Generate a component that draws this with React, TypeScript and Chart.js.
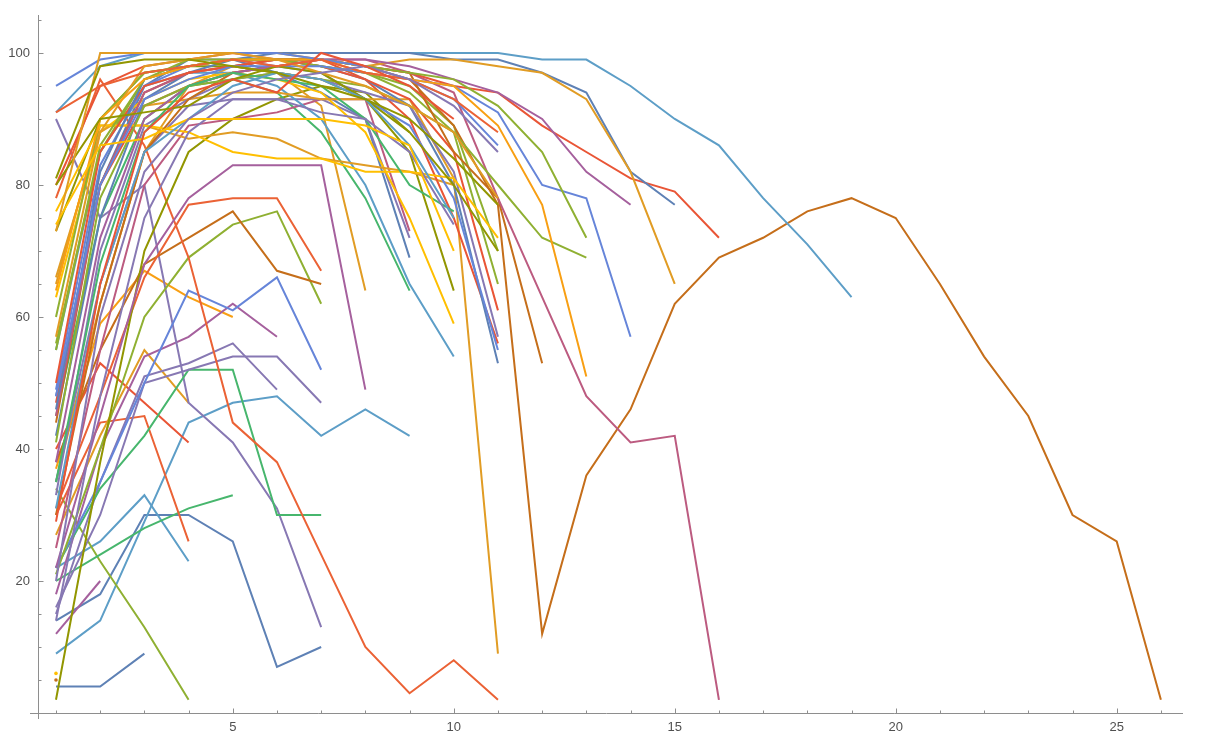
import React, { useEffect, useRef } from "react";
import { Chart, registerables } from "chart.js";

Chart.register(...registerables);

// ---------- data (x = 1, 2, 3, ... for each series) ----------
const s01 = [4, 4, 9];
const s02 = [14, 18, 30, 30, 26, 7, 10];
const s03 = [9, 14, 29, 44, 47, 48, 42, 46, 42];
const s04 = [22, 26, 33, 23];
const s05 = [34, 23, 13, 2];
const s06 = [20, 24, 28, 31, 33];
const s07 = [12, 20];
const s08 = [30, 44, 45, 26];
const s09 = [40, 53, 47, 41];
const s10 = [27, 42, 55, 47];
const s11 = [37, 59, 67, 63, 60];
const s12 = [18, 40, 54, 57, 62, 57];
const s13 = [15, 35, 51, 53, 56, 49];
const s14 = [90, 75, 80, 47, 41, 31, 13];
const s15 = [22, 34, 42, 52, 52, 30, 30];
const s16 = [16, 30, 50, 52, 54, 54, 47];
const s17 = [22, 35, 50, 64, 61, 66, 52];
const s18 = [21, 40, 60, 69, 74, 76, 62];
const s19 = [38, 55, 68, 72, 76, 67, 65];
const s20 = [31, 48, 66, 77, 78, 78, 67];
const s21 = [78, 96, 86, 69, 44, 38, 24, 10, 3, 8, 2];
const s22 = [2, 38, 70, 85, 90, 93, 95, 94, 88];
const s23 = [22, 45, 68, 78, 83, 83, 83, 49];
const s24 = [35, 62, 85, 95, 98, 97, 92, 64];
const s25 = [45, 75, 90, 95, 96, 94, 88, 78, 64];
const s26 = [48, 80, 95, 99, 99, 97, 94, 90, 69];
const s27 = [25, 55, 80, 89, 90, 91, 93, 93, 73];
const s28 = [35, 65, 85, 92, 93, 93, 93, 90, 72];
const s29 = [55, 85, 95, 97, 97, 95, 90, 80, 65, 54];
const s30 = [63, 88, 93, 96, 97, 96, 94, 88, 75, 59];
const s31 = [73, 90, 97, 98, 98, 97, 96, 93, 85, 64];
const s32 = [65, 89, 89, 87, 88, 87, 84, 83, 82, 80];
const s33 = [66, 88, 92, 93, 94, 94, 93, 93, 93, 81, 9];
const s34 = [47, 80, 92, 95, 97, 98, 99, 96, 90, 75, 56];
const s35 = [42, 75, 93, 97, 99, 99, 98, 96, 92, 80, 53];
const s36 = [49, 83, 95, 98, 99, 98, 97, 93, 89, 78, 55];
const s37 = [33, 70, 89, 93, 96, 97, 96, 94, 92, 82, 57];
const s38 = [80, 95, 98, 99, 100, 99, 98, 96, 93, 85, 61];
const s39 = [56, 85, 96, 99, 99, 99, 98, 97, 94, 88, 65];
const s40 = [60, 90, 97, 98, 99, 99, 98, 97, 95, 89, 70];
const s41 = [76, 89, 89, 88, 85, 84, 84, 82, 82, 81, 72];
const s42 = [44, 80, 94, 97, 98, 99, 99, 98, 97, 85, 78, 53];
const s43 = [30, 62, 85, 93, 97, 98, 99, 98, 96, 89, 77, 12, 36, 46, 62, 69, 72, 76, 78, 75, 65, 54, 45, 30, 26, 2];
const s44 = [91, 98, 100, 100, 100, 100, 100, 100, 100, 100, 100, 99, 99, 95, 90, 86, 78, 71, 63];
const s45 = [45, 80, 94, 97, 98, 99, 99, 99, 97, 94, 78, 63, 48, 41, 42, 2];
const s46 = [50, 85, 95, 97, 98, 99, 99, 98, 97, 95, 94, 89, 85, 81, 79, 72];
const s47 = [46, 82, 96, 98, 99, 100, 100, 100, 100, 99, 99, 97, 94, 82, 77];
const s48 = [57, 88, 98, 99, 100, 100, 99, 98, 99, 99, 98, 97, 93, 82, 65];
const s49 = [48, 80, 93, 96, 98, 98, 98, 97, 96, 95, 91, 80, 78, 57];
const s50 = [38, 72, 90, 95, 97, 98, 99, 99, 98, 96, 94, 90, 82, 77];
const s51 = [55, 86, 96, 98, 99, 99, 99, 98, 97, 96, 92, 85, 72];
const s52 = [41, 78, 92, 95, 96, 97, 96, 95, 92, 88, 80, 72, 69];
const s53 = [64, 90, 96, 98, 99, 99, 99, 97, 96, 95, 89, 77, 51];
const s54 = [95, 99, 100, 100, 100, 100, 99, 98, 96, 93, 86];
const s55 = [35, 68, 88, 95, 97, 96, 95, 90, 80, 76];
const s56 = [80, 90, 91, 92, 96, 98, 97, 93, 88, 80, 70];
const s57 = [73, 100, 100, 100, 100, 99, 97, 95, 92, 88, 78];
const s58 = [91, 95, 97, 98, 99, 98, 99, 97, 96, 93, 88];
const s59 = [31, 65, 85, 90, 95, 97, 96, 93, 86, 75];
const s60 = [14, 48, 75, 88, 93, 93, 91, 90, 85, 74];
const s61 = [6];
const s62 = [5];
const s63 = [81, 98, 99, 99, 98, 97, 95, 93, 90, 84, 77];
const s64 = [74, 86, 87, 90, 90, 90, 90, 89, 86, 70];
const s65 = [20, 60, 82, 90, 94, 96, 97, 98, 96, 92, 85];
const s66 = [29, 65, 88, 94, 96, 94, 100, 98, 95, 90];

const seriesList = [
  s01, s02, s03, s04, s05, s06, s07, s08, s09, s10, s11, s12, s13, s14, s15, s16, s17,
  s18, s19, s20, s21, s22, s23, s24, s25, s26, s27, s28, s29, s30, s31, s32, s33, s34,
  s35, s36, s37, s38, s39, s40, s41, s42, s43, s44, s45, s46, s47, s48, s49, s50, s51,
  s52, s53, s54, s55, s56, s57, s58, s59, s60, s61, s62, s63, s64, s65, s66,
];

const xTickLabels = [5, 10, 15, 20, 25];
const yTickLabels = [20, 40, 60, 80, 100];

// ---------- styles ----------
const C1 = "#5E81B5", C2 = "#E19C24", C3 = "#8FB032", C4 = "#EB6235", C5 = "#8778B3";
const C6 = "#C56E1A", C7 = "#5D9EC7", C8 = "#FFBF00", C9 = "#A5609D", C10 = "#929600";
const C11 = "#E95536", C12 = "#6685D9", C13 = "#F89F13", C14 = "#BC5B80", C15 = "#47B66D";

const seriesColors = [
  C1, C1, C7, C7, C3, C15, C9, C4, C11, C2, C13, C9, C5, C5, C15, C5, C12,
  C3, C6, C4, C4, C10, C9, C2, C15, C1, C14, C5, C7, C8, C10, C2, C2, C11,
  C1, C12, C5, C11, C3, C3, C8, C6, C6, C7, C14, C11, C1, C2, C12, C9, C3,
  C3, C13, C12, C15, C10, C2, C4, C7, C5, C8, C6, C10, C8, C5, C11,
];

const axisColor = "#8e8e8e";
const labelColor = "#505050";

const axesPlugin = {
  id: "mmaAxes",
  afterDraw(chart: any) {
    const { ctx, chartArea: a, scales } = chart;
    const xs = scales.x;
    const ys = scales.y;
    ctx.save();
    ctx.strokeStyle = axisColor;
    ctx.lineWidth = 1;
    const yAxisPx = Math.round(a.bottom) + 0.5;
    const xAxisPx = Math.round(a.left) + 0.5;
    ctx.beginPath();
    ctx.moveTo(a.left - 8, yAxisPx);
    ctx.lineTo(a.right, yAxisPx);
    ctx.moveTo(xAxisPx, a.top - 3);
    ctx.lineTo(xAxisPx, a.bottom + 6);
    ctx.stroke();
    ctx.beginPath();
    for (let v = 1; v <= Math.floor(xs.max); v++) {
      const px = Math.round(xs.getPixelForValue(v)) + 0.5;
      const len = v % 5 === 0 ? 5 : 3;
      ctx.moveTo(px, yAxisPx);
      ctx.lineTo(px, yAxisPx - len);
    }
    for (let v = 5; v <= Math.floor(ys.max); v += 5) {
      const py = Math.round(ys.getPixelForValue(v)) + 0.5;
      const len = v % 20 === 0 ? 5 : 3;
      ctx.moveTo(xAxisPx, py);
      ctx.lineTo(xAxisPx + len, py);
    }
    ctx.stroke();
    ctx.restore();
  },
};

export default function App() {
  const canvasRef = useRef<HTMLCanvasElement | null>(null);

  useEffect(() => {
    if (!canvasRef.current) return;
    const datasets = seriesList.map((vals, i) => ({
      label: "s" + (i + 1),
      data: vals.map((v, j) => ({ x: j + 1, y: v })),
      borderColor: seriesColors[i % seriesColors.length],
      backgroundColor: seriesColors[i % seriesColors.length],
      borderWidth: 2,
      pointRadius: vals.length === 1 ? 1.8 : 0,
      pointBorderWidth: 0,
      pointHoverRadius: 0,
      tension: 0,
      fill: false,
      order: seriesList.length - i,
    }));
    const font = { family: "'Liberation Sans', Arial, sans-serif", size: 13 };
    const chart = new Chart(canvasRef.current, {
      type: "line",
      data: { datasets },
      plugins: [axesPlugin],
      options: {
        animation: false,
        responsive: true,
        maintainAspectRatio: false,
        layout: { padding: { top: 18, right: 36, left: 0, bottom: 0 } },
        plugins: { legend: { display: false }, tooltip: { enabled: false } },
        scales: {
          x: {
            type: "linear",
            min: 0.593,
            max: 26.5,
            grid: { display: false, drawTicks: false },
            border: { display: false },
            ticks: { font, color: labelColor, padding: 7, maxRotation: 0, autoSkip: false },
            afterBuildTicks: (s: any) => {
              s.ticks = xTickLabels.map((v) => ({ value: v }));
            },
            afterFit: (s: any) => {
              s.height = 37;
            },
          },
          y: {
            type: "linear",
            min: 0,
            max: 105.3,
            grid: { display: false, drawTicks: false },
            border: { display: false },
            ticks: { font, color: labelColor, padding: 8, autoSkip: false },
            afterBuildTicks: (s: any) => {
              s.ticks = yTickLabels.map((v) => ({ value: v }));
            },
            afterFit: (s: any) => {
              s.width = 38;
            },
          },
        },
      } as any,
    });
    return () => chart.destroy();
  }, []);

  return (
    <div style={{ position: "absolute", left: 0, top: 0, width: 1219, height: 750, background: "#fff" }}>
      <canvas ref={canvasRef} />
    </div>
  );
}
